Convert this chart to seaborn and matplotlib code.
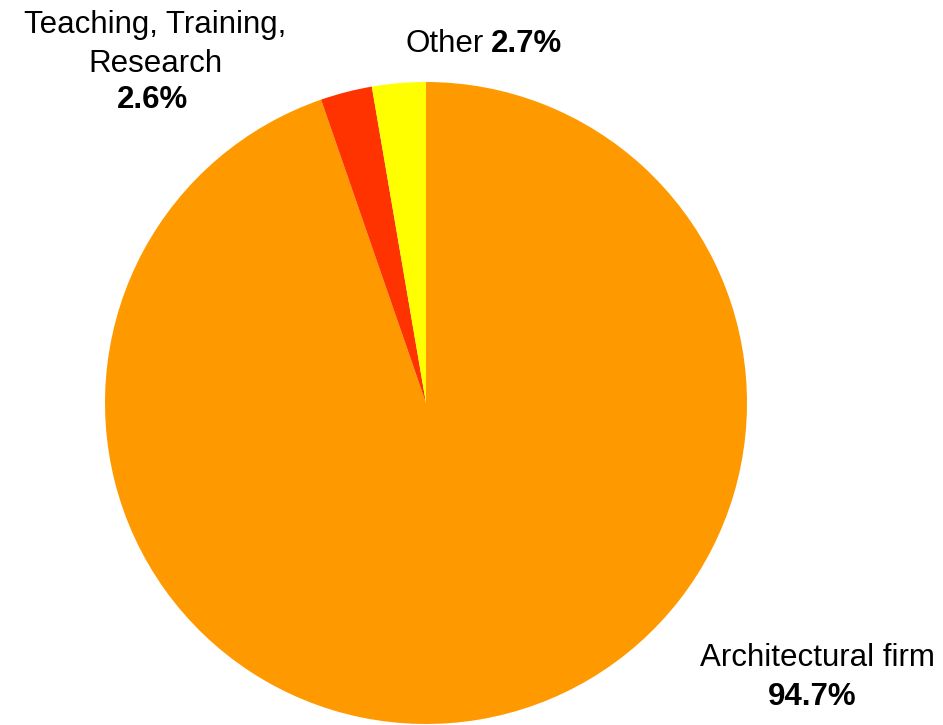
import matplotlib
matplotlib.use("Agg")
import matplotlib.pyplot as plt
import seaborn as sns

categories = ["Architectural firm", "Teaching, Training,\nResearch", "Other"]
values = [94.7, 2.6, 2.7]
pct_labels = ["94.7%", "2.6%", "2.7%"]
colors = ["#FF9900", "#FF3300", "#FFFF00"]

sns.set_theme(style="white")
plt.rcParams["font.family"] = ["Liberation Sans", "DejaVu Sans"]
plt.rcParams["text.color"] = "black"

W, H = 943, 725
fig = plt.figure(figsize=(W / 100, H / 100), dpi=100)
fig.patch.set_facecolor("white")

cx, cy, r = 426, 403, 321
ax = fig.add_axes([(cx - r) / W, (H - cy - r) / H, 2 * r / W, 2 * r / H])
ax.pie(values, colors=colors, startangle=90, counterclock=False,
       wedgeprops=dict(linewidth=0))
ax.set_aspect("equal")
ax.set_xlim(-1, 1)
ax.set_ylim(-1, 1)
ax.axis("off")

def px(x, y):
    return x / W, 1 - y / H

fs = 22.5
kw = dict(va="baseline", fontsize=fs, color="black")
# Architectural firm
fig.text(*px(817, 666), categories[0], ha="center", **kw)
fig.text(*px(812, 705), pct_labels[0], ha="center", fontweight="bold", **kw)
# Teaching
fig.text(*px(155, 33), "Teaching, Training,", ha="center", **kw)
fig.text(*px(155, 72), "Research", ha="center", **kw)
fig.text(*px(152, 108), pct_labels[1], ha="center", fontweight="bold", **kw)
# Other
fig.text(*px(484, 52), categories[2], ha="right", **kw)
fig.text(*px(491, 52), pct_labels[2], ha="left", fontweight="bold", **kw)

fig.savefig("out.png", dpi=100, facecolor="white")
